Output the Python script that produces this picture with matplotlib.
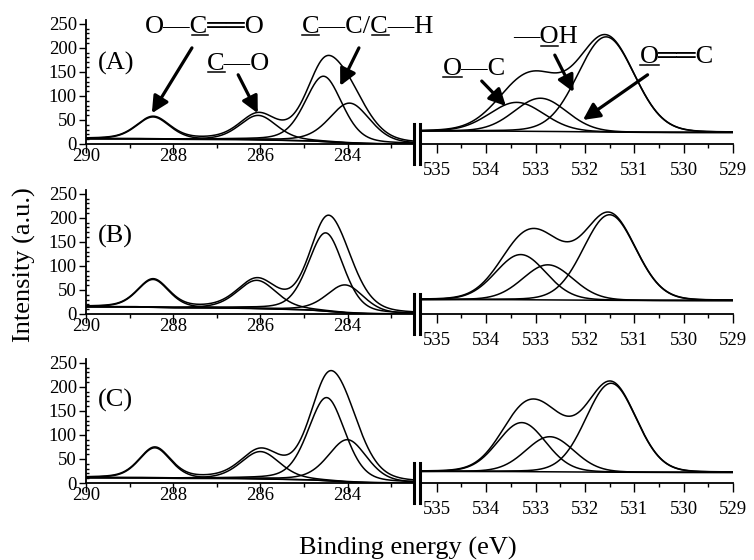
import numpy as np
import matplotlib
matplotlib.use("Agg")
import matplotlib.pyplot as plt
from matplotlib.lines import Line2D
from matplotlib.transforms import IdentityTransform

plt.rcParams['font.family'] = ['Liberation Serif', 'DejaVu Sans']

# fitted components: centre (eV), height above background, FWHM (eV)
panels = ['(A)', '(B)', '(C)']

c1s_pos = [[288.46, 286.05, 284.55, 283.95],
           [288.46, 286.08, 284.50, 284.05],
           [288.42, 286.00, 284.48, 284.00]]
c1s_amp = [[46, 51, 136, 83],
           [58, 59, 163, 58],
           [63, 57, 173, 88]]
c1s_fwhm = [[0.9, 1.0, 1.0, 1.1],
            [0.85, 1.05, 0.95, 1.0],
            [0.85, 1.05, 1.0, 1.05]]
c1s_bg = [(11, 0), (15, 0), (11, 0)]   # background at high / low BE end

o1s_pos = [[533.38, 532.90, 531.57],
           [533.30, 532.75, 531.50],
           [533.28, 532.71, 531.47]]
o1s_amp = [[60, 69, 198],
           [94, 73, 178],
           [102, 73, 185]]
o1s_fwhm = [[1.3, 1.25, 1.35],
            [1.2, 1.2, 1.25],
            [1.15, 1.15, 1.2]]
o1s_bg = [(27, 24), (30, 28), (24, 22)]

C1S_MIX = 0.3    # Lorentzian fraction of the line shape
O1S_MIX = 0.08


def line_shape(x, x0, amp, w, mix):
    g = np.exp(-4 * np.log(2) * (x - x0) ** 2 / w ** 2)
    l = 1.0 / (1 + 4 * (x - x0) ** 2 / w ** 2)
    return amp * ((1 - mix) * g + mix * l)


def shirley(peaks_sum, hi, lo):
    # x runs from high to low BE, area counted from the low BE end
    s = np.cumsum(peaks_sum[::-1])[::-1]
    return lo + (hi - lo) * s / s[0]


def draw_fit(ax, x, pos, amp, fwhm, bg_ends, mix):
    comps = [line_shape(x, p, a, w, mix) for p, a, w in zip(pos, amp, fwhm)]
    total = np.sum(comps, axis=0)
    bg = shirley(total, *bg_ends)
    ax.plot(x, bg + total, color='k', lw=1.1)
    for c in comps:
        ax.plot(x, bg + c, color='k', lw=1.1)
    ax.plot(x, bg, color='k', lw=1.1)


fig = plt.figure(figsize=(7.54, 5.6), dpi=100)
W, H = 754, 560
zero_rows = [144, 314, 483]   # pixel row of the zero line in each panel
ax_h = 124

axes_left = []
axes_right = []
for r in range(3):
    y0 = zero_rows[r]
    axL = fig.add_axes([86 / W, (H - y0) / H, 327 / W, ax_h / H])
    axR = fig.add_axes([422 / W, (H - y0) / H, 311 / W, ax_h / H])
    axL.patch.set_visible(False)
    axR.patch.set_visible(False)

    xl = np.linspace(290, 282.5, 800)
    xr = np.linspace(535.3, 529, 800)
    draw_fit(axL, xl, c1s_pos[r], c1s_amp[r], c1s_fwhm[r], c1s_bg[r], C1S_MIX)
    draw_fit(axR, xr, o1s_pos[r], o1s_amp[r], o1s_fwhm[r], o1s_bg[r], O1S_MIX)

    axL.set_xlim(290, 282.5)
    axL.set_ylim(0, 258)
    axL.set_xticks([290, 288, 286, 284])
    axL.set_xticks([289, 287, 285, 283], minor=True)
    axL.set_yticks(range(0, 251, 50))
    axL.set_yticks(range(0, 251, 10), minor=True)
    for s in ['top', 'right']:
        axL.spines[s].set_visible(False)
    axL.tick_params(axis='x', which='major', direction='out', length=6.5,
                    width=1, pad=-3.6, labelsize=13.5)
    axL.tick_params(axis='x', which='minor', direction='out', length=3, width=1)
    axL.tick_params(axis='y', which='major', direction='out', length=5,
                    width=1, pad=1.5, labelsize=13.5)
    axL.tick_params(axis='y', which='minor', direction='in', length=2.5, width=1)

    axR.set_xlim(535.3, 529)
    axR.set_ylim(0, 258)
    axR.set_xticks(range(535, 528, -1))
    axR.set_xticks(np.arange(534.5, 529, -1.0), minor=True)
    axR.set_yticks([])
    for s in ['top', 'right', 'left']:
        axR.spines[s].set_visible(False)
    axR.tick_params(axis='x', which='major', direction='out', length=6.5,
                    width=1, pad=6.5, labelsize=13.5)
    axR.tick_params(axis='x', which='minor', direction='out', length=3, width=1)

    for a in (axL, axR):
        for s in a.spines.values():
            s.set_linewidth(1.3)

    # axis break marks
    for bx in (414, 420):
        fig.add_artist(Line2D([bx / W, bx / W], [(H - y0 - 20) / H, (H - y0 + 20) / H],
                              color='k', lw=2.2))

    axL.text(289.72, [154, 148, 160][r], panels[r], fontsize=19,
             ha='left', va='baseline')
    axes_left.append(axL)
    axes_right.append(axR)

renderer = fig.canvas.get_renderer()


def text_w(s, prop):
    if not s:
        return 0.0
    w, h, d = renderer.get_text_width_height_descent(s, prop, ismath=False)
    return w


def chem_label(ax, x, y, text, under):
    t = ax.text(x, y, text, fontsize=19, ha='left', va='baseline', zorder=5)
    prop = t.get_fontproperties()
    px, py = ax.transData.transform((x, y))
    for pre in under:
        w0 = text_w(pre, prop)
        w1 = text_w(pre + text[len(pre)], prop)
        x0 = px + w0 + (1.5 if pre else 0.5)
        fig.add_artist(Line2D([x0, px + w1], [py - 2.5, py - 2.5],
                              transform=IdentityTransform(), color='k', lw=1.1))


def arrow(ax, tail, head):
    ax.annotate('', xy=head, xytext=tail, annotation_clip=False,
                arrowprops=dict(arrowstyle='-|>,head_length=0.5,head_width=0.25',
                                lw=2.3, color='k', shrinkA=0, shrinkB=0,
                                mutation_scale=20))


axA, axA2 = axes_left[0], axes_right[0]
chem_label(axA, 288.65, 231, 'O\u2014C\u2550\u2550O', ['O\u2014'])
chem_label(axA, 287.22, 154, 'C\u2014O', [''])
chem_label(axA, 285.05, 231, 'C\u2014C/C\u2014H', ['', 'C\u2014C/'])
arrow(axA, (287.57, 200), (288.49, 64))
arrow(axA, (286.51, 144), (286.06, 64))
arrow(axA, (283.74, 200), (284.17, 121))

chem_label(axA2, 534.88, 144, 'O\u2014C', [''])
chem_label(axA2, 533.46, 210, '\u2014OH', ['\u2014'])
chem_label(axA2, 530.89, 169, 'O\u2550\u2550C', [''])
arrow(axA2, (534.09, 131), (533.60, 79))
arrow(axA2, (532.61, 185), (532.23, 108))
arrow(axA2, (530.73, 144), (532.04, 50))

fig.text(24 / W, 1 - 265 / H, 'Intensity (a.u.)', rotation=90,
         ha='center', va='center', fontsize=19)
fig.text(408 / W, 5 / H, 'Binding energy (eV)', ha='center', va='baseline',
         fontsize=19)

fig.savefig('out.png', dpi=100)
